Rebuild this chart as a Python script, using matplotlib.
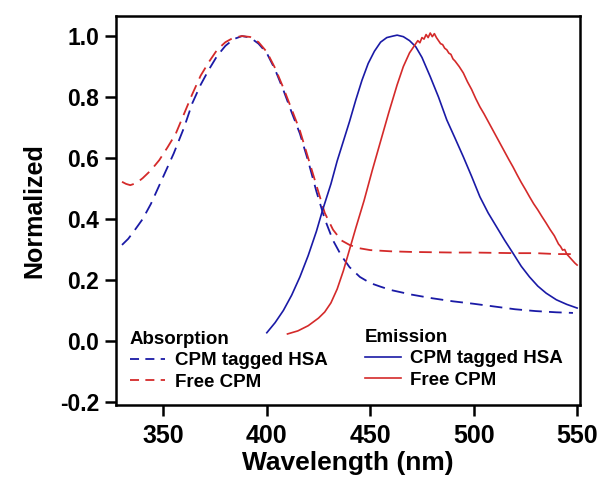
import matplotlib
matplotlib.use("Agg")
import matplotlib.pyplot as plt
from matplotlib.lines import Line2D

plt.rcParams['font.family'] = ['Liberation Sans', 'DejaVu Sans']
plt.rcParams['font.weight'] = 'bold'

# absorption, CPM tagged HSA
abs_hsa_x = [330, 333, 336, 340, 344, 347, 351, 355, 360, 364, 368, 372, 376, 380,
             384, 388, 392, 396, 400, 404, 408, 412, 416, 420, 424, 428, 432, 436,
             440, 445, 450, 455, 460, 470, 480, 490, 500, 510, 520, 530, 540, 548]
abs_hsa_y = [0.315, 0.335, 0.362, 0.40, 0.45, 0.495, 0.555, 0.615, 0.70, 0.78, 0.84,
             0.89, 0.935, 0.968, 0.99, 1.0, 0.995, 0.975, 0.944, 0.89, 0.823, 0.75,
             0.68, 0.59, 0.49, 0.40, 0.33, 0.28, 0.242, 0.21, 0.19, 0.178, 0.167,
             0.152, 0.14, 0.13, 0.122, 0.113, 0.104, 0.098, 0.094, 0.092]

# absorption, free CPM
abs_free_x = [330, 332, 334, 337, 340, 344, 348, 352, 356, 360, 364, 368, 372, 376,
              380, 384, 388, 392, 396, 400, 404, 408, 412, 416, 420, 424, 428, 432,
              436, 440, 444, 450, 460, 470, 480, 490, 500, 510, 520, 530, 540, 548]
abs_free_y = [0.522, 0.515, 0.511, 0.518, 0.534, 0.56, 0.593, 0.635, 0.68, 0.745,
              0.81, 0.87, 0.915, 0.955, 0.98, 0.995, 1.0, 0.997, 0.98, 0.948, 0.895,
              0.83, 0.76, 0.69, 0.60, 0.51, 0.42, 0.365, 0.33, 0.315, 0.305, 0.298,
              0.294, 0.292, 0.291, 0.29, 0.29, 0.289, 0.288, 0.288, 0.285, 0.285]

# emission, CPM tagged HSA
em_hsa_x = [400, 404, 408, 412, 416, 420, 424, 427, 431, 434, 437, 440, 443, 446,
            449, 452, 455, 458, 461, 463, 466, 469, 472, 475, 479, 483, 487, 491,
            495, 499, 503, 507, 511, 515, 519, 523, 527, 531, 535, 540, 545, 550]
em_hsa_y = [0.027, 0.06, 0.10, 0.15, 0.21, 0.28, 0.36, 0.43, 0.515, 0.59, 0.655,
            0.72, 0.79, 0.855, 0.91, 0.95, 0.98, 0.995, 1.0, 1.003, 0.998, 0.985,
            0.965, 0.93, 0.867, 0.80, 0.725, 0.665, 0.604, 0.54, 0.473, 0.42, 0.375,
            0.33, 0.288, 0.245, 0.21, 0.18, 0.157, 0.135, 0.12, 0.108]

# emission, free CPM
em_free_x = [410, 415, 420, 425, 428, 431, 434, 437, 440, 443, 447, 451, 455, 459,
             463, 466, 469, 471, 473, 474, 475, 476, 477, 478, 479, 480, 481, 482,
             483, 484, 485, 486, 487, 488, 489, 490, 491, 493, 495, 497, 499, 501,
             503, 505, 507, 509, 511, 513, 515, 517, 519, 521, 523, 525, 527, 529,
             531, 533, 535, 537, 539, 541, 542, 543, 544, 545, 547, 549, 550]
em_free_y = [0.023, 0.033, 0.05, 0.075, 0.095, 0.125, 0.17, 0.23, 0.30, 0.37, 0.46,
             0.56, 0.655, 0.75, 0.84, 0.90, 0.945, 0.965, 0.985, 0.978, 0.995, 0.99,
             1.005, 0.995, 1.01, 0.998, 1.008, 0.995, 0.985, 0.975, 0.972, 0.96,
             0.955, 0.944, 0.94, 0.925, 0.918, 0.90, 0.879, 0.85, 0.825, 0.795,
             0.768, 0.745, 0.72, 0.695, 0.67, 0.645, 0.62, 0.595, 0.571, 0.545,
             0.52, 0.497, 0.473, 0.45, 0.43, 0.408, 0.387, 0.365, 0.345, 0.318,
             0.31, 0.298, 0.30, 0.285, 0.27, 0.255, 0.249]

blue = '#1a1aa6'
red = '#d42a2a'
dash = (7, 4)

fig = plt.figure(figsize=(6, 4.83), dpi=100)
ax = fig.add_axes([0.193, 0.1615, 0.774, 0.8055])

ax.plot(abs_hsa_x, abs_hsa_y, color=blue, lw=1.3, dashes=dash)
ax.plot(abs_free_x, abs_free_y, color=red, lw=1.3, dashes=dash)
ax.plot(em_hsa_x, em_hsa_y, color=blue, lw=1.2)
ax.plot(em_free_x, em_free_y, color=red, lw=1.2)

ax.set_xlim(327, 551.5)
ax.set_ylim(-0.21, 1.066)
ax.set_xticks([350, 400, 450, 500, 550])
ax.set_yticks([-0.2, 0.0, 0.2, 0.4, 0.6, 0.8, 1.0])
ax.set_yticklabels(['-0.2', '0.0', '0.2', '0.4', '0.6', '0.8', '1.0'])
ax.tick_params(axis='x', labelsize=18, length=8, width=1.8, pad=6)
ax.tick_params(axis='y', labelsize=16.5, length=8, width=1.8, pad=4)
for lab in ax.get_xticklabels() + ax.get_yticklabels():
    lab.set_fontweight('bold')
for sp in ax.spines.values():
    sp.set_linewidth(1.8)

ax.set_xlabel('Wavelength (nm)', fontsize=19, fontweight='bold', labelpad=2)
ax.set_ylabel('Normalized', fontsize=18, fontweight='bold', labelpad=10)

h_abs = [Line2D([], [], color=blue, lw=1.3, dashes=(5, 3.5)),
         Line2D([], [], color=red, lw=1.3, dashes=(5, 3.5))]
h_em = [Line2D([], [], color=blue, lw=1.2),
        Line2D([], [], color=red, lw=1.2)]
labels = ['CPM tagged HSA', 'Free CPM']

common = dict(frameon=False, fontsize=13.5, loc='upper left', borderpad=0,
              borderaxespad=0, handlelength=1.9, handletextpad=0.5,
              labelspacing=0.22, alignment='left',
              title_fontproperties={'weight': 'bold', 'size': 13.5})
leg1 = ax.legend(h_abs, labels, title='Absorption',
                 bbox_to_anchor=(0.03, 0.19), **common)
ax.add_artist(leg1)
leg2 = ax.legend(h_em, labels, title='Emission',
                 bbox_to_anchor=(0.537, 0.195), **common)

fig.savefig('out.png', dpi=100)
